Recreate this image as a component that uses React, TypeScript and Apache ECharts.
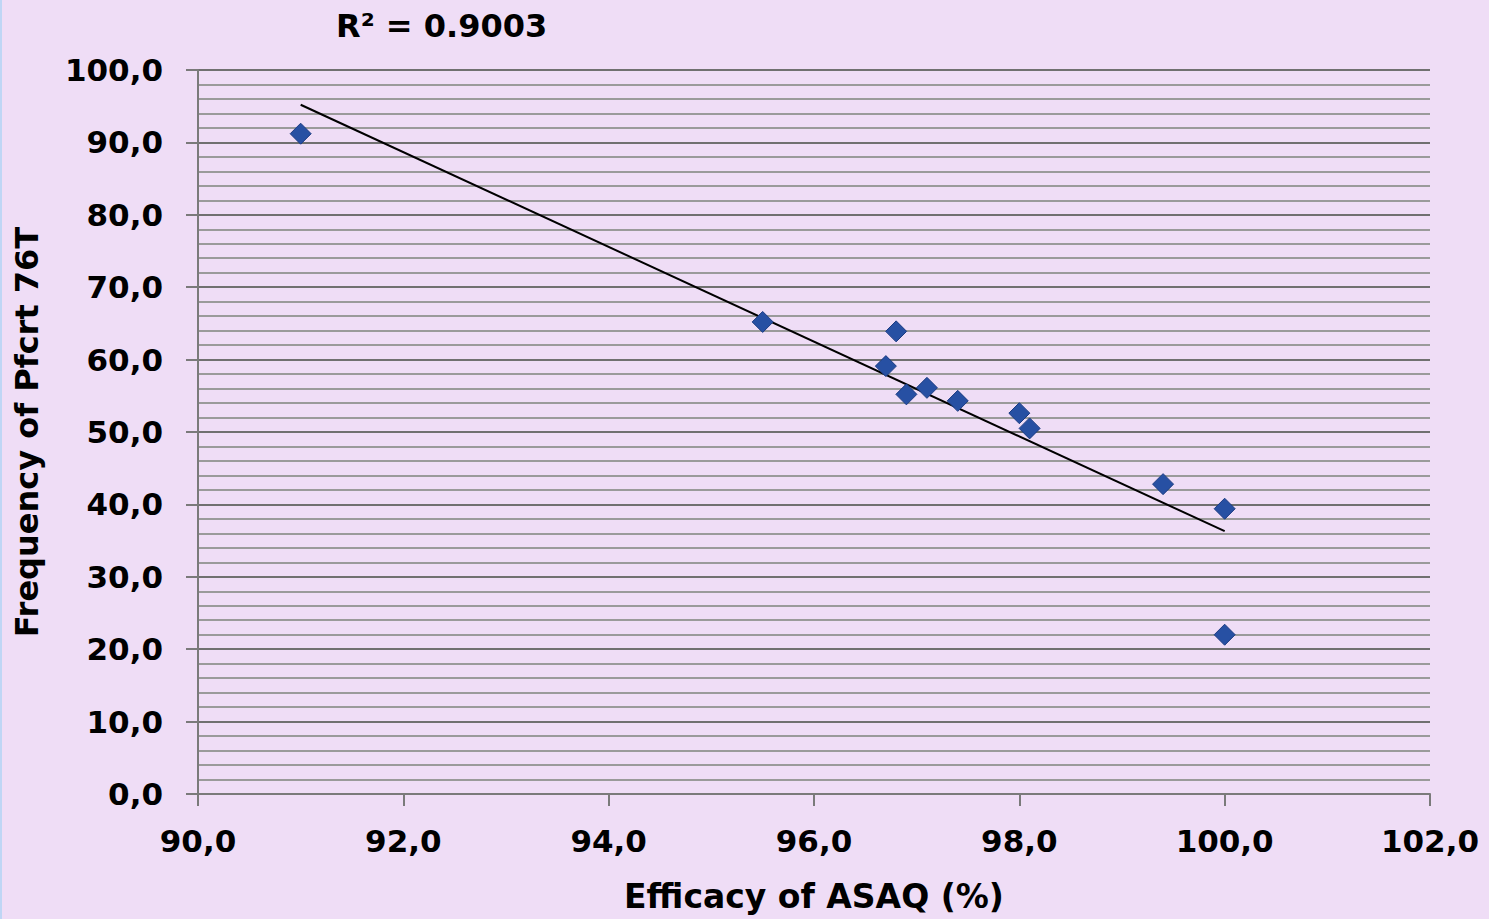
import React, { useEffect, useRef } from "react";
import * as echarts from "echarts";

const efficacy = [91.0, 95.5, 96.8, 96.7, 96.9, 97.1, 97.4, 98.0, 98.1, 99.4, 100.0, 100.0];
const frequency = [91.2, 65.2, 63.9, 59.1, 55.2, 56.1, 54.3, 52.6, 50.5, 42.8, 39.4, 22.0];
const trendX = [91.0, 100.0];
const trendY = [95.2, 36.3];
const rSquaredText = "R² = 0.9003";

const FONT = "'DejaVu Sans', sans-serif";
const fmt = (v: number) => v.toFixed(1).replace(".", ",");

export default function App() {
  const ref = useRef<HTMLDivElement>(null);
  useEffect(() => {
    document.body.style.margin = "0";
    const chart = echarts.init(ref.current!, undefined, { renderer: "svg" });
    chart.setOption({
      animation: false,
      backgroundColor: "#EFDDF6",
      grid: { left: 198, right: 59, top: 70, bottom: 125, outerBoundsMode: "none", containLabel: false },
      graphic: [
        { type: "rect", left: 0, top: 0, shape: { width: 2, height: 919 }, style: { fill: "#BFD6F5" } },
        {
          type: "text",
          left: 336,
          top: 10,
          style: { text: rSquaredText, font: `bold 32px ${FONT}`, fill: "#000" },
        },
      ],
      xAxis: {
        type: "value",
        min: 90,
        max: 102,
        interval: 2,
        name: "Efficacy of ASAQ (%)",
        nameLocation: "middle",
        nameGap: 86,
        nameTextStyle: { fontFamily: FONT, fontWeight: "bold", fontSize: 33, color: "#000" },
        axisLine: { show: true, lineStyle: { color: "#7a7a7a", width: 2 } },
        axisTick: { show: true, length: 12, lineStyle: { color: "#7a7a7a", width: 2 } },
        axisLabel: {
          formatter: fmt,
          margin: 31,
          fontFamily: FONT,
          fontWeight: "bold",
          fontSize: 31,
          color: "#000",
        },
        splitLine: { show: false },
      },
      yAxis: {
        type: "value",
        min: 0,
        max: 100,
        interval: 10,
        name: "Frequency of Pfcrt 76T",
        nameLocation: "middle",
        nameRotate: 90,
        nameGap: 155,
        nameTextStyle: { fontFamily: FONT, fontWeight: "bold", fontSize: 32, color: "#000" },
        axisLine: { show: true, lineStyle: { color: "#7a7a7a", width: 2 } },
        axisTick: { show: true, length: 12, lineStyle: { color: "#7a7a7a", width: 2 } },
        axisLabel: {
          formatter: fmt,
          margin: 35,
          fontFamily: FONT,
          fontWeight: "bold",
          fontSize: 31,
          color: "#000",
        },
        splitLine: { show: true, lineStyle: { color: "#707070", width: 2 } },
        minorTick: { show: false, splitNumber: 5 },
        minorSplitLine: { show: true, lineStyle: { color: "#9a9a9a", width: 2 } },
      },
      series: [
        {
          type: "line",
          data: trendX.map((x, i) => [x, trendY[i]]),
          symbol: "none",
          lineStyle: { color: "#000", width: 2 },
          z: 3,
        },
        {
          type: "scatter",
          data: efficacy.map((x, i) => [x, frequency[i]]),
          symbol: "diamond",
          symbolSize: 21,
          itemStyle: { color: "#2750A3", borderColor: "#1C3C82", borderWidth: 1, opacity: 1 },
          z: 4,
        },
      ],
    });
    return () => chart.dispose();
  }, []);
  return <div ref={ref} style={{ width: 1489, height: 919 }} />;
}
